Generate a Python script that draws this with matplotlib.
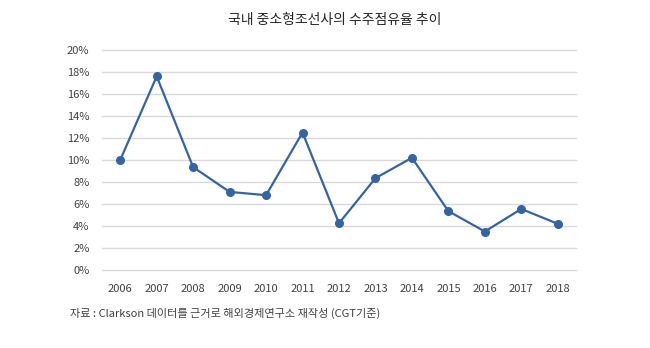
import matplotlib
matplotlib.use("Agg")
import matplotlib.pyplot as plt
from matplotlib.ticker import FuncFormatter

plt.rcParams['font.family'] = ['Noto Sans CJK KR', 'DejaVu Sans']

years = ['2006', '2007', '2008', '2009', '2010', '2011', '2012',
         '2013', '2014', '2015', '2016', '2017', '2018']
share = [10.0, 17.6, 9.35, 7.1, 6.8, 12.5, 4.25, 8.35, 10.2, 5.35, 3.5, 5.55, 4.2]
yticks = [0, 2, 4, 6, 8, 10, 12, 14, 16, 18, 20]
title = '국내 중소형조선사의 수주점유율 추이'
source = '자료 : Clarkson 데이터를 근거로 해외경제연구소 재작성 (CGT기준)'

fig = plt.figure(figsize=(6.5, 3.48), dpi=100)
ax = fig.add_axes([102/650, 1-270/348, 474/650, 220/348])

x = list(range(len(years)))
ax.plot(x, share, color='#3565a0', lw=1.6, marker='o', ms=5.5, zorder=3)

ax.set_xlim(-0.5, len(years) - 0.5)
ax.set_ylim(0, 20)
ax.set_yticks(yticks)
ax.yaxis.set_major_formatter(FuncFormatter(lambda v, p: f'{int(v)}%'))
ax.set_xticks(x)
ax.set_xticklabels(years)
ax.grid(axis='y', color='#d9d9d9', lw=1.0, zorder=0)
for gl in ax.get_ygridlines():
    gl.set_clip_on(False)
for s in ax.spines.values():
    s.set_visible(False)
ax.tick_params(axis='both', length=0, labelsize=8, labelcolor='#404040')
ax.tick_params(axis='x', pad=10)
ax.tick_params(axis='y', pad=9)

fig.text(335/650, 1-20/348, title, ha='center', va='center', fontsize=10, color='#262626')
fig.text(70/650, 1-313/348, source, ha='left', va='center', fontsize=8, color='#404040')

fig.savefig('out.png', dpi=100)
